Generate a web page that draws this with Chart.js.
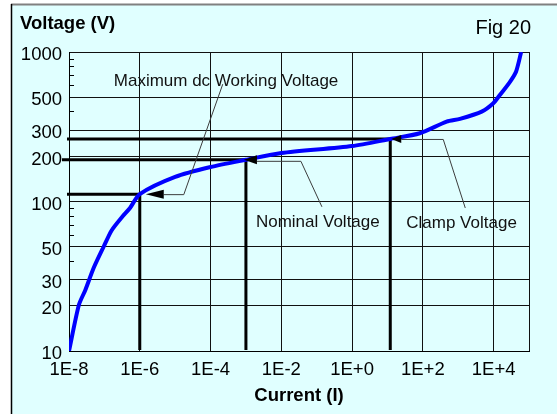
<!DOCTYPE html>
<html>
<head>
<meta charset="utf-8">
<script src="https://cdn.jsdelivr.net/npm/chart.js@4.4.1/dist/chart.umd.min.js"></script>
<style>
  html, body { margin: 0; padding: 0; background: #ffffff; }
  canvas { display: block; }
</style>
</head>
<body>
<canvas id="chart" width="557" height="414"></canvas>
<script>
// V-I characteristic of the varistor (log-log)
const currentA = [1e-8, 1.9e-8, 2.9e-8, 5e-8, 9.6e-8, 1.6e-7, 3.2e-7, 5.3e-7, 1e-6, 1e-5, 1e-4, 1e-3,
                  1e-2, 1, 12, 82, 470, 1120, 4600, 9800, 15000, 29000, 43000, 60000];
const voltageV = [10, 20.3, 25.6, 36, 50, 64, 79, 90.5, 112, 146, 170, 190,
                  211, 235, 262, 286, 342, 357, 399, 454, 515, 632, 738, 1000];

// Axis ticks
const xTickValues = [1e-8, 1e-6, 1e-4, 1e-2, 1, 1e2, 1e4, 1e5];
const yTickValues = [10, 20, 30, 50, 100, 200, 300, 500, 1000];
const yMinorTicks = [40, 60, 70, 80, 90, 400, 600, 700, 800, 900];

// Marked operating points on the curve
const markLabels  = ['Maximum dc Working Voltage', 'Nominal Voltage', 'Clamp Voltage'];
const markCurrent = [1e-6, 1e-3, 12];
const markVoltage = [112, 190, 262];

const FONT = "'Liberation Sans', Arial, sans-serif";
const PANEL = '#e0ffff';

// Callout geometry, relative to each marked point
const callouts = [
  { lineStart: -2, tip: 6,  len: 18, half: 4.5, elbowX: 44, elbowY: 0.5, endX: 83, endY: -110, textX: -26, textY: -108 },
  { lineStart: -7, tip: -2, len: 13, half: 4.5, elbowX: 55, elbowY: 1.5, endX: 76, endY: 47,   textX: 10,  textY: 67 },
  { lineStart: -2, tip: 1,  len: 10, half: 4,   elbowX: 53, elbowY: 0.5, endX: 75, endY: 69,   textX: 16,  textY: 89 }
];

function fmtPow(v) {
  const e = Math.round(Math.log10(v));
  if (e >= 5) return '';
  return '1E' + (e >= 0 ? '+' : '-') + Math.abs(e);
}

const panelPlugin = {
  id: 'panel',
  beforeDraw(chart) {
    const ctx = chart.ctx;
    ctx.save();
    ctx.fillStyle = '#ffffff';
    ctx.fillRect(0, 0, chart.width, chart.height);
    ctx.fillStyle = PANEL;
    ctx.fillRect(11, 4, chart.width - 11, chart.height - 4);
    ctx.strokeStyle = '#808080';
    ctx.lineWidth = 2;
    ctx.beginPath(); ctx.moveTo(11, 4.5); ctx.lineTo(chart.width, 4.5); ctx.stroke();
    ctx.strokeStyle = '#000000';
    ctx.lineWidth = 1.5;
    ctx.beginPath(); ctx.moveTo(11.5, 4); ctx.lineTo(11.5, chart.height); ctx.stroke();
    ctx.restore();
  },
  afterDraw(chart) {
    const ctx = chart.ctx;
    const area = chart.chartArea;
    ctx.save();
    ctx.fillStyle = '#000000';
    ctx.textBaseline = 'alphabetic';
    ctx.font = 'bold 18.5px ' + FONT;
    ctx.textAlign = 'left';
    ctx.fillText('Voltage (V)', 20, 29);
    ctx.textAlign = 'center';
    ctx.fillText('Current (I)', (area.left + area.right) / 2, 401);
    ctx.font = '20px ' + FONT;
    ctx.textAlign = 'right';
    ctx.fillText('Fig 20', 531, 34);

    // minor ticks on the voltage axis, drawn inward
    const y = chart.scales.y;
    ctx.strokeStyle = '#000000';
    ctx.lineWidth = 1;
    yMinorTicks.forEach(v => {
      const py = Math.round(y.getPixelForValue(v)) + 0.5;
      ctx.beginPath(); ctx.moveTo(area.left, py); ctx.lineTo(area.left + 5, py); ctx.stroke();
    });
    ctx.restore();
  }
};

const calloutPlugin = {
  id: 'callouts',
  beforeDatasetsDraw(chart) {
    const ctx = chart.ctx;
    const xs = chart.scales.x, ys = chart.scales.y;
    const area = chart.chartArea;
    ctx.save();
    ctx.strokeStyle = '#000000';
    ctx.lineWidth = 3;
    markCurrent.forEach((c, i) => {
      const px = xs.getPixelForValue(c), py = ys.getPixelForValue(markVoltage[i]);
      ctx.beginPath();
      ctx.moveTo(area.left + callouts[i].lineStart, py);
      ctx.lineTo(px, py);
      ctx.moveTo(px, py);
      ctx.lineTo(px, area.bottom - 1);
      ctx.stroke();
    });
    ctx.restore();
  },
  afterDatasetsDraw(chart) {
    const ctx = chart.ctx;
    const xs = chart.scales.x, ys = chart.scales.y;
    ctx.save();
    markCurrent.forEach((c, i) => {
      const k = callouts[i];
      const px = xs.getPixelForValue(c), py = ys.getPixelForValue(markVoltage[i]);
      const tipX = px + k.tip, baseX = tipX + k.len;
      // leader
      ctx.strokeStyle = '#3c3c3c';
      ctx.lineWidth = 1;
      ctx.beginPath();
      ctx.moveTo(baseX, py + k.elbowY);
      ctx.lineTo(px + k.elbowX, py + k.elbowY);
      ctx.lineTo(px + k.endX, py + k.endY);
      ctx.stroke();
      // arrowhead
      ctx.fillStyle = '#000000';
      ctx.beginPath();
      ctx.moveTo(tipX, py);
      ctx.lineTo(baseX, py - k.half);
      ctx.lineTo(baseX, py + k.half);
      ctx.closePath();
      ctx.fill();
      // label
      ctx.font = '17px ' + FONT;
      ctx.fillStyle = '#111111';
      ctx.textAlign = 'left';
      ctx.textBaseline = 'alphabetic';
      ctx.fillText(markLabels[i], px + k.textX, py + k.textY);
    });
    ctx.restore();
  }
};

const points = currentA.map((c, i) => ({ x: c, y: voltageV[i] }));

new Chart(document.getElementById('chart'), {
  type: 'line',
  data: {
    datasets: [{
      data: points,
      borderColor: '#0000ff',
      borderWidth: 4,
      pointRadius: 0,
      tension: 0.25,
      fill: false
    }]
  },
  options: {
    responsive: false,
    devicePixelRatio: 1,
    animation: false,
    layout: { padding: { left: 0, top: 52, right: 28, bottom: 0 } },
    plugins: { legend: { display: false }, tooltip: { enabled: false }, title: { display: false } },
    scales: {
      x: {
        type: 'logarithmic',
        min: 1e-8,
        max: 1e5,
        afterBuildTicks(scale) { scale.ticks = xTickValues.map(v => ({ value: v })); },
        afterFit(scale) { scale.height = 63; },
        grid: { color: '#111111', lineWidth: 1, drawTicks: false },
        border: { display: true, color: '#000000', width: 1 },
        ticks: {
          autoSkip: false,
          maxRotation: 0,
          padding: 8,
          color: '#000000',
          font: { family: FONT, size: 18.5 },
          callback: v => fmtPow(v)
        }
      },
      y: {
        type: 'logarithmic',
        min: 10,
        max: 1000,
        afterBuildTicks(scale) { scale.ticks = yTickValues.map(v => ({ value: v })); },
        afterFit(scale) { scale.width = 69; },
        grid: { color: '#111111', lineWidth: 1, drawTicks: false },
        border: { display: true, color: '#000000', width: 1 },
        ticks: {
          autoSkip: false,
          padding: 7,
          labelOffset: 3,
          color: '#000000',
          font: { family: FONT, size: 18.5 },
          callback: v => String(v)
        }
      }
    }
  },
  plugins: [panelPlugin, calloutPlugin]
});
</script>
</body>
</html>
